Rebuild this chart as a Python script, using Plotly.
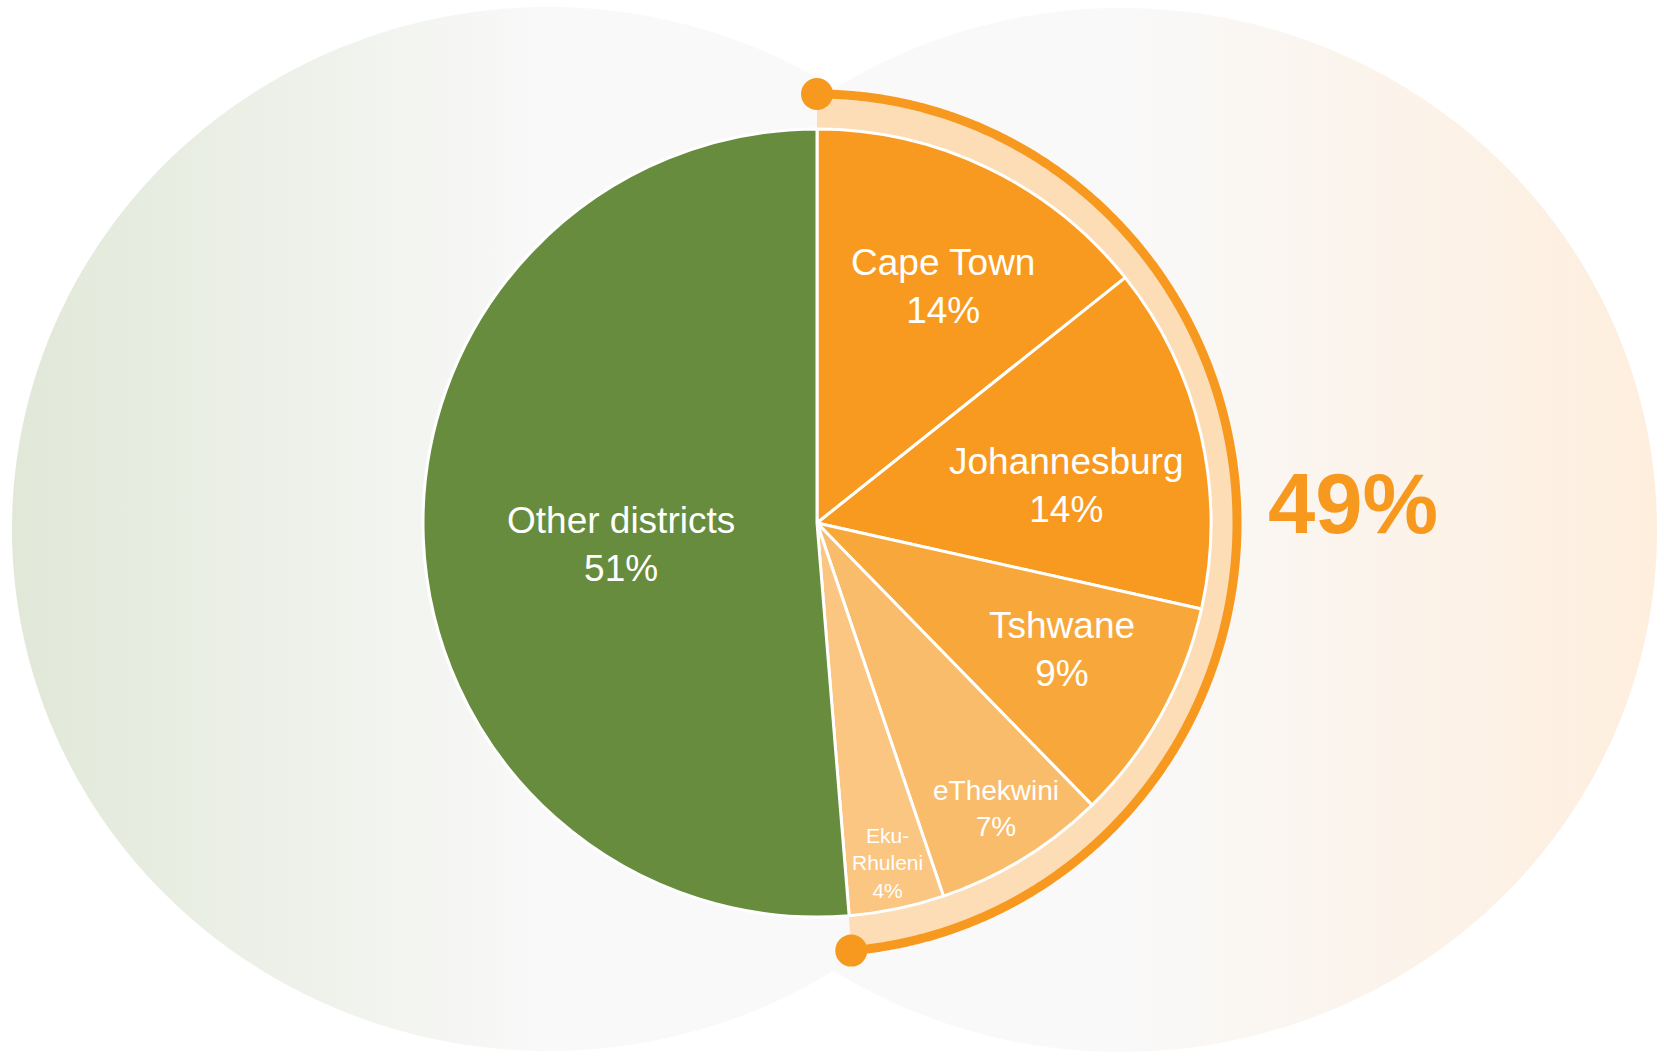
import numpy as np
import plotly.graph_objects as go

# slices, clockwise from 12 o'clock (shares in %)
districts = ["Cape Town", "Johannesburg", "Tshwane", "eThekwini", "Eku-<br>Rhuleni", "Other districts"]
shares = [14.3, 14.2, 9.2, 7.1, 3.9, 51.3]
share_labels = ["14%", "14%", "9%", "7%", "4%", "51%"]
slice_colors = ["#F89A20", "#F89A20", "#F8A83B", "#F9BC6B", "#FBC682", "#678C3E"]

# label styling: font size, distance from centre (share of radius), angle nudge (deg)
label_sizes = [37, 37, 37, 28, 21, 37]
label_radius = [0.68, 0.64, 0.70, 0.855, 0.88, 0.50]
label_nudge = [2.4, 4.3, -1.8, -0.6, 0, -4.0]

# the five metros together
metro_total = sum(shares[:5])
metro_label = f"{round(metro_total)}%"

W, H = 1664, 1058
CX, CY, R = 817, 523, 394   # pie centre and radius, px
ORANGE = "#F7991F"
FONT = "Liberation Sans, Arial"


def ellipse(cx, cy, rx, ry, a0=0, a1=360, n=720):
    # angles clockwise from 12 o'clock, y grows downwards
    t = np.radians(np.linspace(a0, a1, n))
    return cx + rx * np.sin(t), cy - ry * np.cos(t)


fig = go.Figure()

# two soft background discs
bx, by = ellipse(548, 529, 536, 522)
fig.add_trace(go.Scatter(
    x=bx, y=by, mode="lines", fill="toself", line=dict(width=0, simplify=False),
    fillgradient=dict(type="horizontal",
                      colorscale=[[0, "#E1E8D8"], [0.5, "#F9F9F9"], [1, "#F9F9F9"]]),
    hoverinfo="skip"))
bx, by = ellipse(1121, 530, 536, 522)
fig.add_trace(go.Scatter(
    x=bx, y=by, mode="lines", fill="toself", line=dict(width=0, simplify=False),
    fillgradient=dict(type="horizontal",
                      colorscale=[[0, "#F9F9F9"], [0.5, "#F9F9F9"], [1, "#FEEEDD"]]),
    hoverinfo="skip"))

# bracket round the metro slices
arc_end = 360 * metro_total / 100
ox, oy = ellipse(CX, CY, 418, 428, 0, arc_end)
ix, iy = ellipse(CX, CY, 370, 370, arc_end, 0)
fig.add_trace(go.Scatter(
    x=np.concatenate([ox, ix]), y=np.concatenate([oy, iy]),
    mode="lines", fill="toself", fillcolor="#FDDDB5", line=dict(width=0, simplify=False),
    hoverinfo="skip"))
lx, ly = ellipse(CX, CY, 420, 429, 0, arc_end)
fig.add_trace(go.Scatter(x=lx, y=ly, mode="lines",
                         line=dict(color=ORANGE, width=9, simplify=False),
                         hoverinfo="skip"))
fig.add_trace(go.Scatter(x=[lx[0], lx[-1]], y=[ly[0], ly[-1]], mode="markers",
                         marker=dict(color=ORANGE, size=32), hoverinfo="skip"))

fig.add_trace(go.Pie(
    labels=districts, values=shares,
    sort=False, direction="clockwise", rotation=0,
    marker=dict(colors=slice_colors, line=dict(color="white", width=3)),
    textinfo="none",
    domain=dict(x=[(CX - R) / W, (CX + R) / W], y=[1 - (CY + R) / H, 1 - (CY - R) / H]),
    hoverinfo="skip"))

# slice labels, placed along each slice's middle angle
starts = np.cumsum([0] + shares[:-1])
for i, name in enumerate(districts):
    mid = np.radians(360 * (starts[i] + shares[i] / 2) / 100 + label_nudge[i])
    rr = label_radius[i] * R
    fig.add_annotation(x=CX + rr * np.sin(mid), y=CY - rr * np.cos(mid), xref="x", yref="y",
                       text=f"{name}<br>{share_labels[i]}", showarrow=False,
                       font=dict(family=FONT, size=label_sizes[i], color="white"))

fig.add_annotation(x=1353, y=503, xref="x", yref="y", text=metro_label, showarrow=False,
                   font=dict(family=FONT, size=85, color=ORANGE, weight="bold"))

fig.update_layout(
    width=W, height=H, margin=dict(l=0, r=0, t=0, b=0),
    paper_bgcolor="white", plot_bgcolor="rgba(0,0,0,0)",
    showlegend=False,
    xaxis=dict(range=[0, W], visible=False),
    yaxis=dict(range=[H, 0], visible=False),
)

fig.write_html("out.html", config={"displayModeBar": False},
               post_script="document.body.style.margin='0';")
